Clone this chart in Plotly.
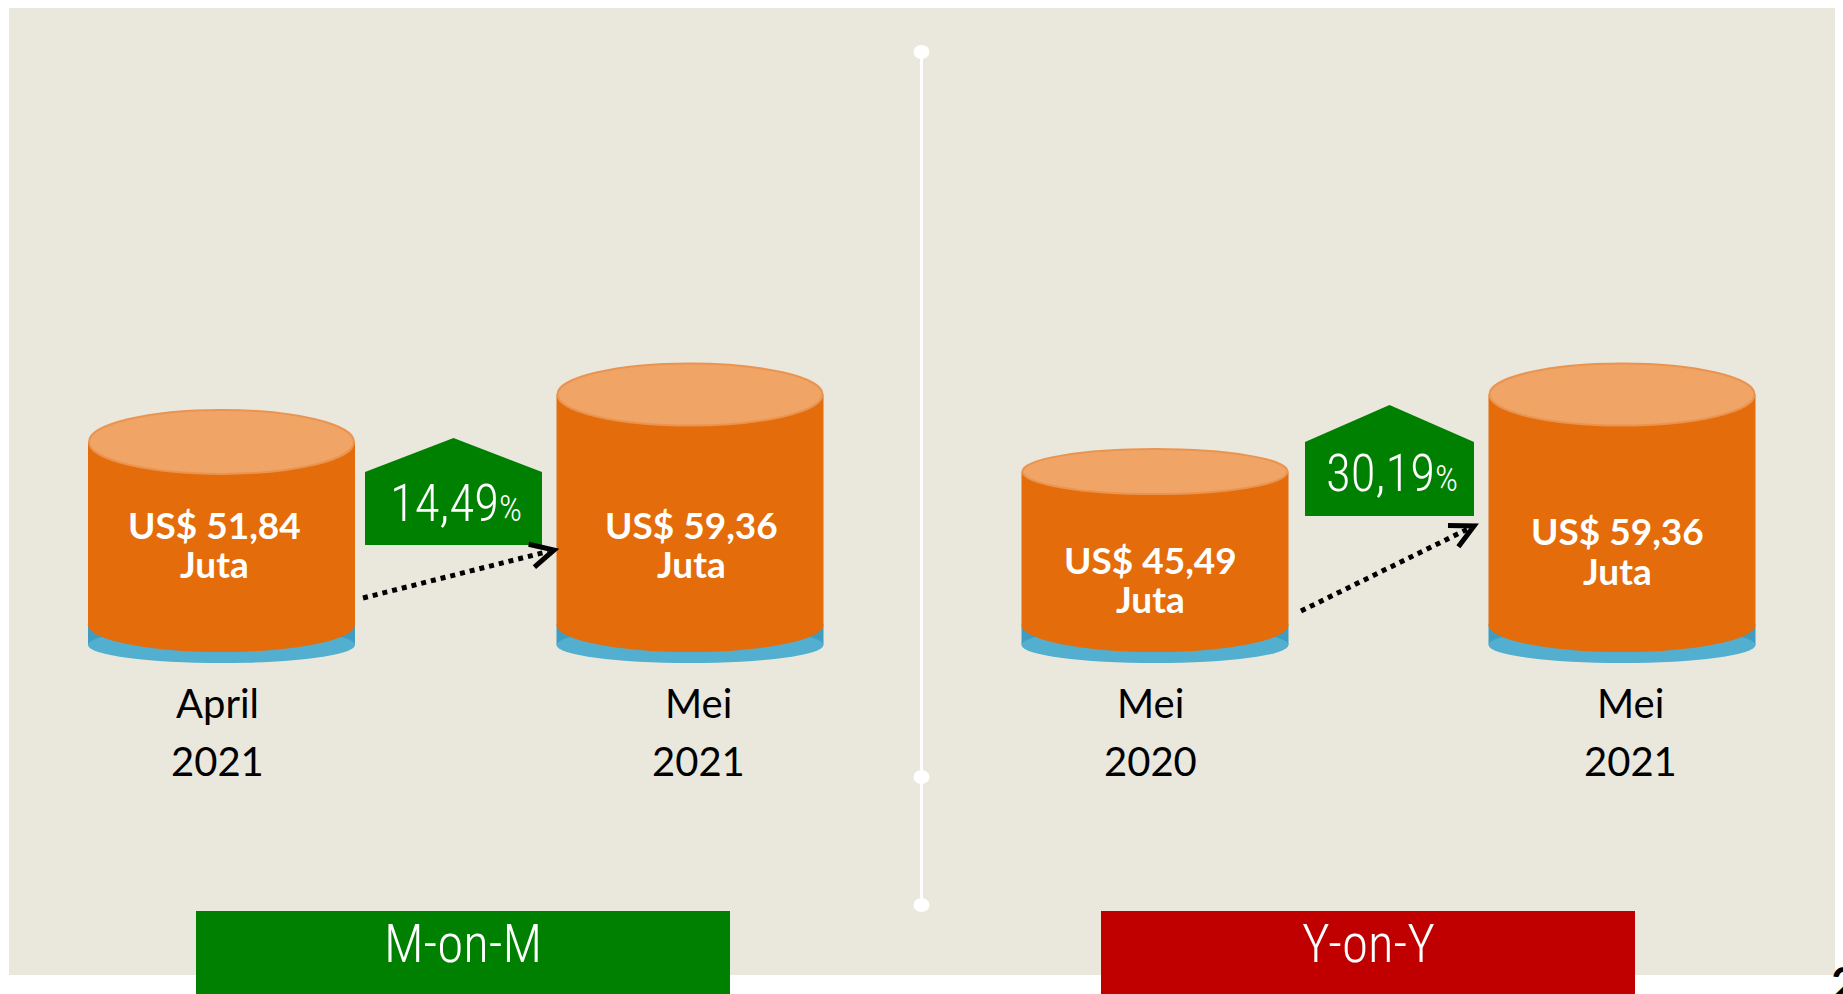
import math
import plotly.graph_objects as go

# ---------------- data ----------------
panel_titles = ["M-on-M", "Y-on-Y"]
months = ["April", "Mei", "Mei", "Mei"]
years = ["2021", "2021", "2020", "2021"]
export_values = [51.84, 59.36, 45.49, 59.36]   # nilai ekspor, US$ juta
growth_values = [14.49, 30.19]                 # pertumbuhan, %
value_unit = "Juta"
page_number = "2"

# ---------------- layout / style constants ----------------
W, H = 1843, 994
BG = "#EAE7DD"
ORANGE = "#E46C0A"
ORANGE_TOP = "#F0A566"
ORANGE_TOP_EDGE = "#EA9450"
BLUE = "#3F9DC2"
BLUE_LIGHT = "#52AFD0"
GREEN = "#008000"
RED = "#C00000"

FONT_BOLD = "Lato, 'Open Sans', sans-serif"
FONT_REG = "Lato, 'Open Sans', sans-serif"
FONT_NARROW = "'Roboto Condensed', 'DejaVu Sans Condensed', sans-serif"

cyl_cx = [221.5, 690, 1155, 1622]      # cylinder centres (px)
cyl_w = 267
top_h = [64, 62, 45, 62]               # height of top ellipse (px)
BODY_BOTTOM_PX = 625                   # centre of bottom orange ellipse
BOTTOM_HALF = 27
BLUE_CENTER_PX = 645
BLUE_HALF = 18

# value scale of the cylinders (top of cylinder <-> value)
VALUE_REF, PIX_REF, PX_PER_UNIT = 54.01, 396.5, 6.166

def px_to_val(p):
    return VALUE_REF - (p - PIX_REF) / PX_PER_UNIT

y2_range = [px_to_val(H), px_to_val(0)]

value_label_pos = [(214.5, 524.5, 563), (691, 524.5, 563), (1150.5, 559.5, 598.5), (1617, 530.5, 570)]
period_label_pos = [(217, 702.5, 761), (698, 702.5, 761), (1150, 702.5, 761), (1630, 702.5, 761)]

# growth pentagons: left, right, apex_y, shoulder_y, bottom_y
pent = [(365, 542, 438, 472, 545), (1305, 1474, 405, 442, 516)]
pent_text_pos = [(456, 503.5), (1391.5, 473.5)]
# arrows: start, tip
arrows = [((363, 598), (554, 550)), ((1301, 611), (1474, 526))]

boxes = [(196, 730, GREEN), (1101, 1635, RED)]
BOX_TOP = 911
box_text_y = 943.5

DIV_X = 921.5
div_dots = [52, 777, 905]

shapes = []
annotations = []

# background panel
shapes.append(dict(type="rect", xref="x", yref="y", x0=9, x1=1835, y0=8, y1=975,
                   fillcolor=BG, line=dict(width=0), layer="below"))
# divider
shapes.append(dict(type="line", xref="x", yref="y", x0=DIV_X, x1=DIV_X, y0=div_dots[0], y1=div_dots[-1],
                   line=dict(color="white", width=3)))
for dy in div_dots:
    shapes.append(dict(type="circle", xref="x", yref="y", x0=DIV_X - 8, x1=DIV_X + 8, y0=dy - 7, y1=dy + 7,
                       fillcolor="white", line=dict(width=0)))

# cylinders
for i, v in enumerate(export_values):
    cx = cyl_cx[i]
    x0, x1 = cx - cyl_w / 2, cx + cyl_w / 2
    # blue base
    shapes.append(dict(type="rect", xref="x", yref="y", x0=x0, x1=x1, y0=BODY_BOTTOM_PX, y1=BLUE_CENTER_PX,
                       fillcolor=BLUE, line=dict(width=0)))
    shapes.append(dict(type="circle", xref="x", yref="y", x0=x0, x1=x1,
                       y0=BLUE_CENTER_PX - BLUE_HALF, y1=BLUE_CENTER_PX + BLUE_HALF,
                       fillcolor=BLUE_LIGHT, line=dict(width=0)))
    # orange bottom curve
    shapes.append(dict(type="circle", xref="x", yref="y", x0=x0, x1=x1,
                       y0=BODY_BOTTOM_PX - BOTTOM_HALF, y1=BODY_BOTTOM_PX + BOTTOM_HALF,
                       fillcolor=ORANGE, line=dict(width=0)))
    # body (value scale)
    shapes.append(dict(type="rect", xref="x", yref="y2", x0=x0, x1=x1,
                       y0=px_to_val(BODY_BOTTOM_PX), y1=v - (top_h[i] / 2) / PX_PER_UNIT,
                       fillcolor=ORANGE, line=dict(width=0)))
    # top ellipse anchored at the value
    shapes.append(dict(type="circle", xref="x", yref="y2", ysizemode="pixel", yanchor=v,
                       x0=x0 + 1, x1=x1 - 1, y0=-top_h[i], y1=0,
                       fillcolor=ORANGE_TOP, line=dict(color=ORANGE_TOP_EDGE, width=2)))
    # value labels
    lx, ly1, ly2 = value_label_pos[i]
    annotations.append(dict(x=lx, y=ly1, xref="x", yref="y", showarrow=False,
                            text="US$ " + f"{v:.2f}".replace(".", ","),
                            font=dict(family=FONT_BOLD, size=37, color="white", weight="bold"),
                            xanchor="center", yanchor="middle"))
    annotations.append(dict(x=lx, y=ly2, xref="x", yref="y", showarrow=False, text=value_unit,
                            font=dict(family=FONT_BOLD, size=37, color="white", weight="bold"),
                            xanchor="center", yanchor="middle"))
    # period labels
    px_, py1, py2 = period_label_pos[i]
    annotations.append(dict(x=px_, y=py1, xref="x", yref="y", showarrow=False, text=months[i],
                            font=dict(family=FONT_REG, size=40, color="black"),
                            xanchor="center", yanchor="middle"))
    annotations.append(dict(x=px_, y=py2, xref="x", yref="y", showarrow=False, text=years[i],
                            font=dict(family=FONT_REG, size=40, color="black"),
                            xanchor="center", yanchor="middle"))

# growth pentagons + arrows
for j, g in enumerate(growth_values):
    l, r, ay, sy, by = pent[j]
    mx = (l + r) / 2
    shapes.append(dict(type="path", xref="x", yref="y",
                       path=f"M {l},{by} L {l},{sy} L {mx},{ay} L {r},{sy} L {r},{by} Z",
                       fillcolor=GREEN, line=dict(width=0)))
    tx, ty = pent_text_pos[j]
    annotations.append(dict(x=tx, y=ty, xref="x", yref="y", showarrow=False,
                            text=f"{g:.2f}".replace(".", ",") + "<span style='font-size:36px'>%</span>",
                            font=dict(family=FONT_NARROW, size=51, color="white", weight=300),
                            xanchor="center", yanchor="middle"))
    (sx, sy0), (ex, ey) = arrows[j]
    dx, dy = ex - sx, ey - sy0
    L = math.hypot(dx, dy)
    ux, uy = dx / L, dy / L
    shapes.append(dict(type="line", xref="x", yref="y", x0=sx, y0=sy0, x1=ex - 6 * ux, y1=ey - 6 * uy,
                       line=dict(color="black", width=5, dash="dot")))
    back = math.atan2(-dy, -dx)
    arm = 26
    a1 = (ex + arm * math.cos(back + math.radians(27)), ey + arm * math.sin(back + math.radians(27)))
    a2 = (ex + arm * math.cos(back - math.radians(27)), ey + arm * math.sin(back - math.radians(27)))
    shapes.append(dict(type="path", xref="x", yref="y",
                       path=f"M {a1[0]:.1f},{a1[1]:.1f} L {ex},{ey} L {a2[0]:.1f},{a2[1]:.1f}",
                       line=dict(color="black", width=5)))

# bottom boxes
for k, (bl, br, col) in enumerate(boxes):
    shapes.append(dict(type="rect", xref="x", yref="y", x0=bl, x1=br, y0=BOX_TOP, y1=H + 10,
                       fillcolor=col, line=dict(width=0)))
    annotations.append(dict(x=(bl + br) / 2, y=box_text_y, xref="x", yref="y", showarrow=False,
                            text=panel_titles[k],
                            font=dict(family=FONT_NARROW, size=53, color="white", weight=300),
                            xanchor="center", yanchor="middle"))

# page number (cut by the page edge)
annotations.append(dict(x=1829, y=953, xref="x", yref="y", showarrow=False, text=page_number,
                        font=dict(family=FONT_BOLD, size=46, color="black", weight="bold"),
                        xanchor="left", yanchor="top"))

fig = go.Figure()
fig.add_trace(go.Scatter(x=cyl_cx, y=export_values, yaxis="y2", mode="markers",
                         marker=dict(opacity=0), hoverinfo="text",
                         text=[f"{m} {y}: US$ {v} Juta" for m, y, v in zip(months, years, export_values)],
                         showlegend=False))
fig.add_trace(go.Scatter(x=[0], y=[0], mode="markers", marker=dict(opacity=0),
                         hoverinfo="skip", showlegend=False))

fig.update_layout(
    width=W, height=H, autosize=False,
    margin=dict(l=0, r=0, t=0, b=0, pad=0),
    paper_bgcolor="white", plot_bgcolor="white",
    xaxis=dict(range=[0, W], visible=False, fixedrange=True),
    yaxis=dict(range=[H, 0], visible=False, fixedrange=True),
    yaxis2=dict(range=y2_range, overlaying="y", visible=False, fixedrange=True),
    shapes=shapes, annotations=annotations, showlegend=False,
)

fig.write_html("out.html", config={"displayModeBar": False},
               post_script="document.body.style.margin='0';document.body.style.overflow='hidden';")
